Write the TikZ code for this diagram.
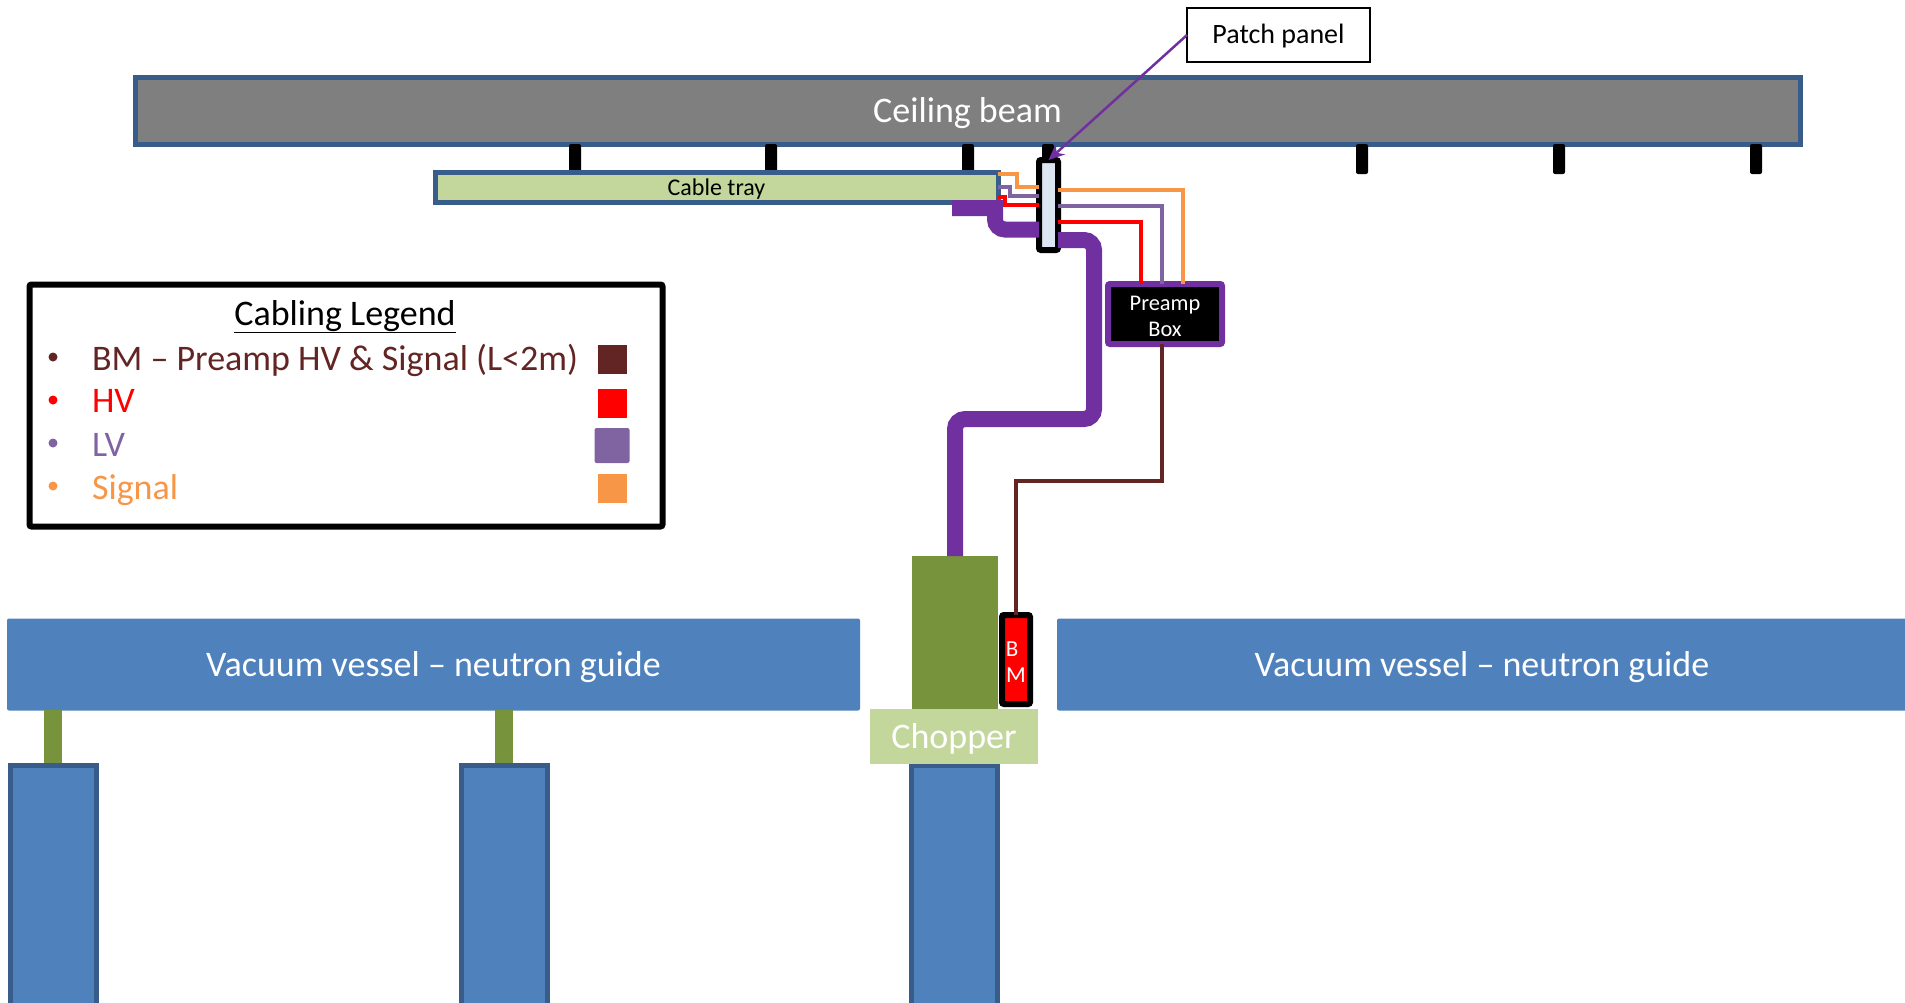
\documentclass[tikz,border=0pt]{standalone}
\usepackage{fontspec}
\setmainfont{Carlito}
\usepackage{xcolor}
\usetikzlibrary{positioning, arrows.meta}
\definecolor{beamgray}{HTML}{7F7F7F}
\definecolor{edgeblue}{HTML}{385D8A}
\definecolor{vesselblue}{HTML}{4F81BD}
\definecolor{traygreen}{HTML}{C3D69B}
\definecolor{chopgreen}{HTML}{77933C}
\definecolor{panelblue}{HTML}{DCE6F2}
\definecolor{thickpurple}{HTML}{7030A0}
\definecolor{lvpurple}{HTML}{8064A2}
\definecolor{sigorange}{HTML}{F79646}
\definecolor{bmbrown}{HTML}{632523}

\tikzset{
  block/.style={rectangle, inner sep=0pt, outer sep=0pt},
  lowtext/.style={text height=#1, text depth=0pt},
  lowtext/.default=11.5pt,
  vessel/.style={block, lowtext, fill=vesselblue, rounded corners=1pt, minimum height=46pt, text=white, font=\fontsize{18}{20}\selectfont},
  pillar/.style={block, draw=edgeblue, fill=vesselblue, line width=2.5pt, minimum width=43pt, minimum height=130pt},
  leg/.style={block, fill=chopgreen, minimum width=9pt, minimum height=26.5pt},
  hanger/.style={block, fill=black, rounded corners=1pt, minimum width=6pt, minimum height=15pt},
  wire/.style={line width=1.75pt},
  trunk/.style={line width=8pt, thickpurple},
  legtext/.style={block, anchor=west, font=\fontsize{18}{20}\selectfont},
  bullet/.style={circle, inner sep=0pt, outer sep=0pt, minimum size=4.5pt},
  swatch/.style={block, minimum width=14.5pt, minimum height=14.5pt}
}

\begin{document}
\begin{tikzpicture}[x=0.5pt, y=-0.5pt, >={Stealth[length=8pt,width=7pt]}]
  \useasboundingbox (0,0) rectangle (1905,1002);

  \node[block, lowtext, draw=edgeblue, fill=beamgray, line width=2.5pt, minimum width=832.5pt, minimum height=33.5pt, text=white, font=\fontsize{18}{20}\selectfont] (beam) at (967.5,111) {Ceiling beam};
  \foreach \x/\n in {575/a, 771/b, 968/c, 1048/d, 1362/e, 1559/f, 1756/g}
    \node[hanger] (hang\n) at (\x,159) {};

  \node[block, lowtext=8.2pt, draw=edgeblue, fill=traygreen, line width=2.5pt, minimum width=281.5pt, minimum height=15pt, font=\fontsize{12}{14}\selectfont] (tray) at (716.5,187) {Cable tray};
  \node[block, draw=black, fill=panelblue, line width=3pt, rounded corners=1pt, minimum width=9.5pt, minimum height=45pt] (panel) at (1048.5,205) {};
  \node[block, draw=thickpurple, fill=black, line width=3pt, rounded corners=1pt, minimum width=57pt, minimum height=30pt, text=white, align=center, font=\fontsize{11.2}{13}\selectfont] (preamp) at (1165,314) {\rule{0pt}{10pt}Preamp\\Box};
  \node[block, lowtext=8.4pt, draw=black, line width=1pt, fill=white, minimum width=91.5pt, minimum height=27pt, font=\fontsize{14}{16}\selectfont] (patch) at (1278.5,35) {Patch panel};

  % vessels and stands
  \node[vessel, minimum width=426.5pt] (vesselL) at (433.5,664.5) {Vacuum vessel -- neutron guide};
  \node[vessel, minimum width=425pt] (vesselR) at (1482,664.5) {Vacuum vessel -- neutron guide};
  \node[leg] (legA) at (53,736.5) {};
  \node[leg] (legB) at (504,736.5) {};
  \node[pillar, anchor=north] (pillarA) at (53,765) {};
  \node[pillar, anchor=north] (pillarB) at (504,765) {};
  \node[pillar, anchor=north] (pillarC) at (954.7,765) {};

  \node[block, fill=chopgreen, minimum width=43pt, minimum height=76.5pt] (chopbody) at (955,632.5) {};
  \node[block, lowtext, fill=traygreen, minimum width=84pt, minimum height=27.5pt, text=white, font=\fontsize{18}{20}\selectfont] (chopper) at (954,736.5) {Chopper};
  \node[block, draw=black, fill=red, line width=3pt, rounded corners=1pt, minimum width=14pt, minimum height=44.5pt] (bm) at (1016,659.5) {};
  \node[block, text=white, font=\fontsize{11.5}{13}\selectfont] (bmB) at (1012,649.5) {B};
  \node[block, text=white, font=\fontsize{11.5}{13}\selectfont] (bmM) at (1016,675.5) {M};

  % cables
  \draw[wire, sigorange] (tray.east |- 0,174) -- (1017,174) -- (1017,187) -- (panel.west |- 0,187);
  \draw[wire, lvpurple] (tray.east |- 0,187) -- (1010,187) -- (1010,196) -- (panel.west |- 0,196);
  \draw[wire, red] (tray.east |- 0,197) -- (1005,197) -- (1005,205) -- (panel.west |- 0,205);
  \draw[wire, sigorange] (panel.east |- 0,190) -| (preamp.north -| 1183,0);
  \draw[wire, lvpurple] (panel.east |- 0,206) -| (preamp.north -| 1162,0);
  \draw[wire, red] (panel.east |- 0,222) -| (preamp.north -| 1141,0);
  \draw[trunk] (952,208) -- (995,208) [rounded corners=5pt] -- (995,229.5) -- (panel.west |- 0,229.5);
  \draw[trunk, rounded corners=5pt] (panel.east |- 0,240) -- (1094,240) -- (1094,419) -- (955,419) -- (chopbody.north);
  \draw[wire, bmbrown] (preamp.south -| 1162,0) -- (1162,481) -- (1016,481) -- (bm.north);
  \draw[->, line width=1.25pt, thickpurple] (patch.west) -- (panel.north);

  % legend
  \node[block, draw=black, line width=3pt, rounded corners=1pt, minimum width=316.5pt, minimum height=121pt] (legend) at (346,405.5) {};
  \node[block, lowtext, font=\fontsize{18}{20}\selectfont] (legtitle) at (345,313.5) {\underline{\smash{Cabling Legend}\rule[-2.2pt]{0pt}{0pt}}};
  \node[bullet, fill=bmbrown] (dotbm) at (53,357) {};
  \node[bullet, fill=red] (dothv) at (53,400) {};
  \node[bullet, fill=lvpurple] (dotlv) at (53,443) {};
  \node[bullet, fill=sigorange] (dotsig) at (53,486) {};
  \node[legtext, text=bmbrown] (textbm) at (92,360.5) {BM -- Preamp HV \& Signal (L<2m)};
  \node[legtext, text=red] (texthv) at (92,401) {HV};
  \node[legtext, text=lvpurple] (textlv) at (92,445) {LV};
  \node[legtext, text=sigorange] (textsig) at (92,490.5) {Signal};
  \node[swatch, fill=bmbrown] (boxbm) at (612,359) {};
  \node[swatch, fill=red] (boxhv) at (612,403) {};
  \node[swatch, fill=lvpurple, rounded corners=1pt, minimum width=17.5pt, minimum height=17.5pt] (boxlv) at (612,445.5) {};
  \node[swatch, fill=sigorange] (boxsig) at (612,488) {};
\end{tikzpicture}
\end{document}
